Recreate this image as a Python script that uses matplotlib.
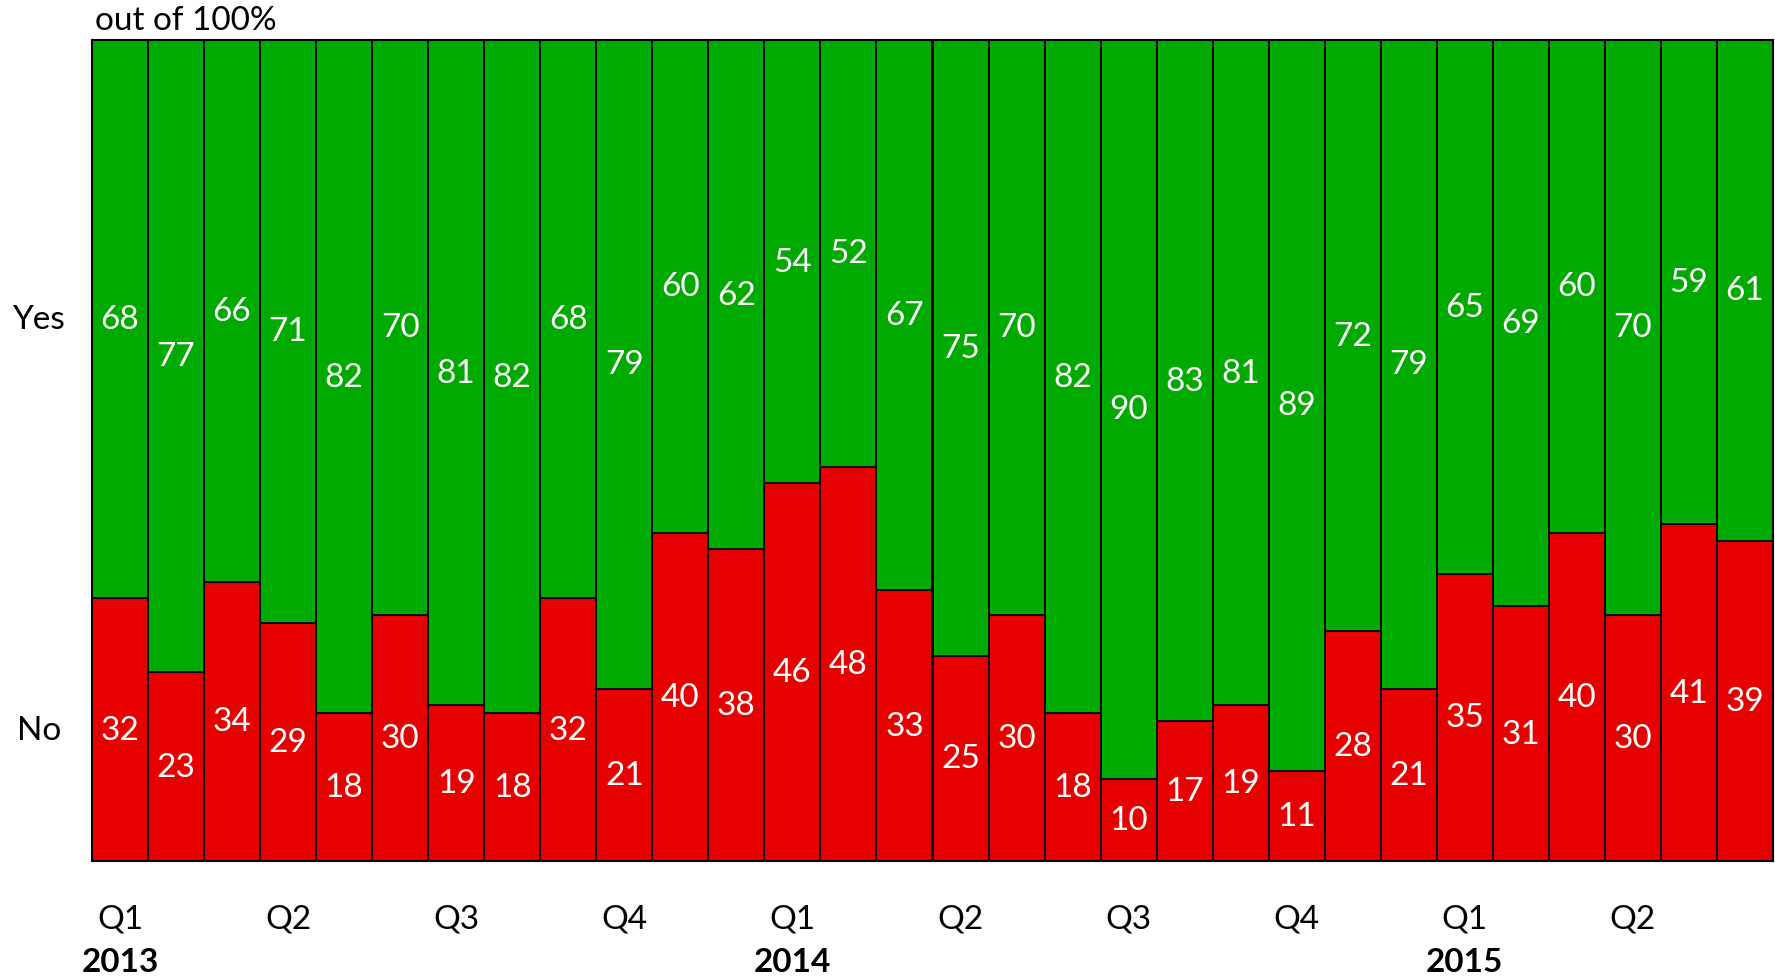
import matplotlib.pyplot as plt
import numpy as np

# share answering "No" / "Yes", quarterly polls 2013 Q1 .. 2015 Q2 (three bars per quarter)
no_vals = [32, 23, 34, 29, 18, 30, 19, 18, 32, 21, 40, 38, 46, 48, 33,
           25, 30, 18, 10, 17, 19, 11, 28, 21, 35, 31, 40, 30, 41, 39]
yes_vals = [68, 77, 66, 71, 82, 70, 81, 82, 68, 79, 60, 62, 54, 52, 67,
            75, 70, 82, 90, 83, 81, 89, 72, 79, 65, 69, 60, 70, 59, 61]
quarter_labels = ['Q1', 'Q2', 'Q3', 'Q4', 'Q1', 'Q2', 'Q3', 'Q4', 'Q1', 'Q2']
year_labels = ['2013', '2014', '2015']

plt.rcParams['font.family'] = ['Lato', 'DejaVu Sans']

fig = plt.figure(figsize=(17.75, 9.79), dpi=100)
ax = fig.add_axes([92 / 1775, 1 - 862 / 979, (1773 - 92) / 1775, (862 - 41) / 979])

x = np.arange(len(no_vals))
no_arr = np.array(no_vals)
yes_arr = np.array(yes_vals)

ax.bar(x, no_arr, width=1.0, color='#E60000', edgecolor='black', linewidth=1.3)
ax.bar(x, yes_arr, width=1.0, bottom=no_arr, color='#00AA00', edgecolor='black', linewidth=1.3)

for i in range(len(x)):
    ax.text(x[i], no_arr[i] / 2, str(no_vals[i]), color='white', fontsize=24,
            ha='center', va='center')
    ax.text(x[i], no_arr[i] + yes_arr[i] / 2, str(yes_vals[i]), color='white', fontsize=24,
            ha='center', va='center')

ax.set_xlim(-0.5, len(x) - 0.5)
ax.set_ylim(0, 100)
ax.set_xticks([])
ax.set_yticks([])
for s in ax.spines.values():
    s.set_linewidth(1.5)

# series names at the left, level with the first bar's labels
ax.text(-1.45, no_arr[0] / 2, 'No', fontsize=24, ha='center', va='center')
ax.text(-1.45, no_arr[0] + yes_arr[0] / 2, 'Yes', fontsize=24, ha='center', va='center')

ax.text(-0.45, 100.6, 'out of 100%', fontsize=24, ha='left', va='bottom')

# quarter labels under every third bar, years under Q1
for j, q in enumerate(quarter_labels):
    ax.text(x[j * 3], -7.0, q, fontsize=24, ha='center', va='center')
for j, yr in enumerate(year_labels):
    ax.text(x[j * 12], -12.2, yr, fontsize=24, fontweight='bold', ha='center', va='center')

fig.savefig('out.png', dpi=100)
